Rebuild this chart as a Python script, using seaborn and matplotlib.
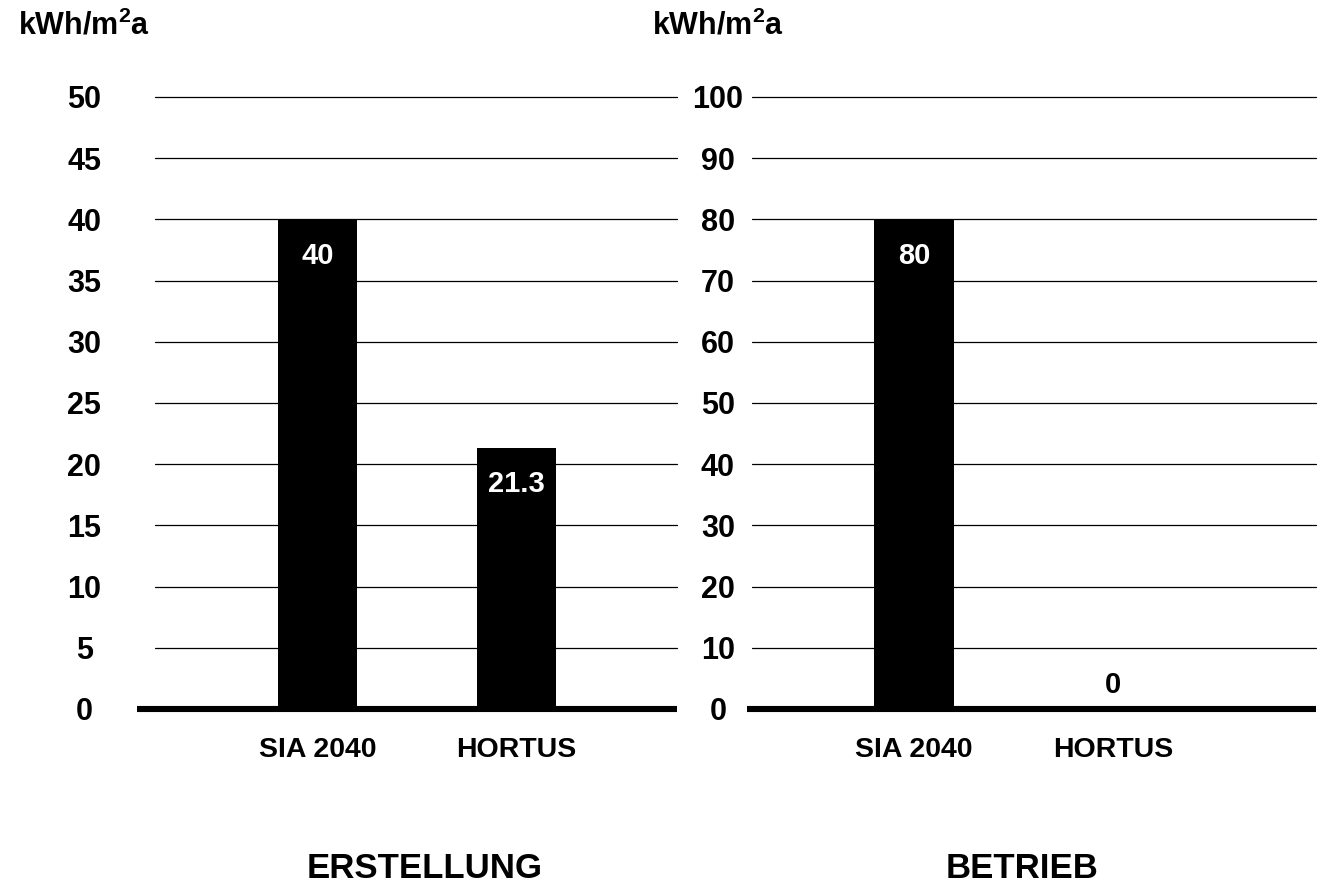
import numpy as np
import pandas as pd
import matplotlib
matplotlib.use("Agg")
import matplotlib.pyplot as plt
import seaborn as sns

sns.set_theme(style="white")
plt.rcParams["font.family"] = ["Liberation Sans", "DejaVu Sans"]
plt.rcParams["font.weight"] = "bold"
plt.rcParams["text.color"] = "black"
plt.rcParams["xtick.color"] = "black"
plt.rcParams["ytick.color"] = "black"
plt.rcParams["mathtext.fontset"] = "custom"
plt.rcParams["mathtext.rm"] = "Liberation Sans:bold"
plt.rcParams["mathtext.it"] = "Liberation Sans:bold"
plt.rcParams["mathtext.bf"] = "Liberation Sans:bold"

# data
categories = ["SIA 2040", "HORTUS"]
erstellung = [40, 21.3]
betrieb = [80, 0]
erstellung_labels = ["40", "21.3"]
betrieb_labels = ["80", "0"]
erstellung_ticks = list(range(0, 51, 5))
betrieb_ticks = list(range(0, 101, 10))
unit = r"kWh/m$^{2}$a"

W, H = 1329, 892
fig = plt.figure(figsize=(W / 100, H / 100), dpi=100)


def px_axes(x0, x1, y0, y1):
    return fig.add_axes([x0 / W, 1 - y1 / H, (x1 - x0) / W, (y1 - y0) / H])


def draw_panel(ax, values, labels, ticks, xlim, grid_start, tick_pad):
    df = pd.DataFrame({"cat": categories, "val": values})
    sns.barplot(data=df, x="cat", y="val", ax=ax, color="black",
                saturation=1, width=0.4, linewidth=0, zorder=3)
    ax.set_xlim(*xlim)
    ax.set_ylim(0, ticks[-1])
    for t in ticks[1:]:
        ax.axhline(t, xmin=grid_start, xmax=1, color="black", lw=0.9,
                   zorder=1, clip_on=False)
    ax.axhline(0, color="black", lw=4.4, zorder=4, clip_on=False,
               solid_capstyle="butt")
    for s in ax.spines.values():
        s.set_visible(False)
    ax.set_yticks(ticks)
    ax.set_yticklabels([str(t) for t in ticks], fontsize=22,
                       fontweight="bold", ha="center")
    ax.tick_params(axis="y", length=0, pad=tick_pad)
    ax.tick_params(axis="x", length=0, pad=20)
    ax.set_xticks(range(len(categories)))
    ax.set_xticklabels(categories, fontsize=20.5, fontweight="bold")
    ax.set_xlabel("")
    ax.set_ylabel("")
    ax.grid(False)
    top = ticks[-1]
    for i, (v, lab) in enumerate(zip(values, labels)):
        if v > 0.1 * top:
            ax.annotate(lab, (i, v), xytext=(0, -26), textcoords="offset points",
                        ha="center", va="center", color="white",
                        fontsize=21, fontweight="bold", zorder=5)
        else:
            ax.annotate(lab, (i, v), xytext=(0, 17), textcoords="offset points",
                        ha="center", va="center", color="black",
                        fontsize=21, fontweight="bold", zorder=5)


ax1 = px_axes(137, 677, 97, 709)
draw_panel(ax1, erstellung, erstellung_labels, erstellung_ticks,
           (-0.907, 1.807), 0.034, 38)

ax2 = px_axes(747, 1316, 97, 709)
draw_panel(ax2, betrieb, betrieb_labels, betrieb_ticks,
           (-0.839, 2.020), 0.009, 21)

fig.text(18 / W, 1 - 26 / H, unit, fontsize=22, fontweight="bold",
         ha="left", va="center")
fig.text(652 / W, 1 - 26 / H, unit, fontsize=22, fontweight="bold",
         ha="left", va="center")
fig.text(425 / W, 1 - 868 / H, "ERSTELLUNG", fontsize=25, fontweight="bold",
         ha="center", va="center")
fig.text(1022 / W, 1 - 868 / H, "BETRIEB", fontsize=25, fontweight="bold",
         ha="center", va="center")

fig.savefig("out.png", dpi=100, facecolor="white")
